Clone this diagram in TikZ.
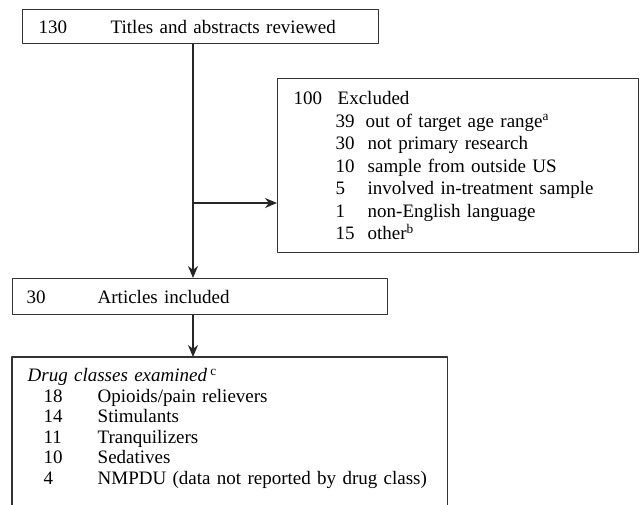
\documentclass[tikz,border=0pt]{standalone}
\usepackage{fontspec}
\setmainfont{Liberation Serif}
\usetikzlibrary{arrows.meta}
\begin{document}
\begin{tikzpicture}[x=1pt, y=-1pt, font=\fontsize{19}{22.5}\selectfont, line join=round, >={Stealth[length=12pt,width=10pt]},
	box/.style={draw=black!80, line width=1.4pt, anchor=north west, inner ysep=0pt, align=left},
	link/.style={->, draw=black!85, line width=1.4pt}]
	\useasboundingbox (0,0) rectangle (642,505);
	\coordinate (spine) at (193,0);
	\coordinate (branch) at (193,203);
	\coordinate (cut) at (0,520);
	\node[box, inner xsep=16pt, text width=324pt, minimum height=34pt] (titles) at (22,9)
		{\makebox[72pt][l]{130}Titles and abstracts reviewed};
	\node[box, inner xsep=16pt, text width=329pt, minimum height=174pt] (excluded) at (277,78)
		{\makebox[44pt][l]{100}Excluded\\
		\hspace*{42pt}\makebox[30pt][l]{39}out of target age range\textsuperscript{a}\\
		\hspace*{42pt}\makebox[32pt][l]{30}not primary research\\
		\hspace*{42pt}\makebox[32pt][l]{10}sample from outside US\\
		\hspace*{42pt}\makebox[32pt][l]{5}involved in-treatment sample\\
		\hspace*{42pt}\makebox[32pt][l]{1}non-English language\\
		\hspace*{42pt}\makebox[32pt][l]{15}other\textsuperscript{b}};
	\node[box, inner xsep=14pt, text width=347pt, minimum height=36pt] (articles) at (12,278)
		{\makebox[71pt][l]{30}Articles included};
	\node[box, draw=none, inner xsep=15pt, inner ysep=11pt, text width=404pt, font=\fontsize{19}{20.5}\selectfont] (drugs) at (12,357)
		{\textit{Drug classes examined}\,\textsuperscript{c}\\
		\hspace*{16pt}\makebox[54pt][l]{18}Opioids/pain relievers\\
		\hspace*{16pt}\makebox[54pt][l]{14}Stimulants\\
		\hspace*{16pt}\makebox[54pt][l]{11}Tranquilizers\\
		\hspace*{16pt}\makebox[54pt][l]{10}Sedatives\\
		\hspace*{16pt}\makebox[54pt][l]{4}NMPDU (data not reported by drug class)};
	\draw[draw=black!80, line width=1.4pt] (drugs.north west |- cut) -- (drugs.north west) -- (drugs.north east) -- (drugs.north east |- cut);
	\draw[link] (titles.south -| spine) -- (articles.north -| spine);
	\draw[link] (branch) -- (branch -| excluded.west);
	\draw[link] (articles.south -| spine) -- (drugs.north -| spine);
\end{tikzpicture}
\end{document}
